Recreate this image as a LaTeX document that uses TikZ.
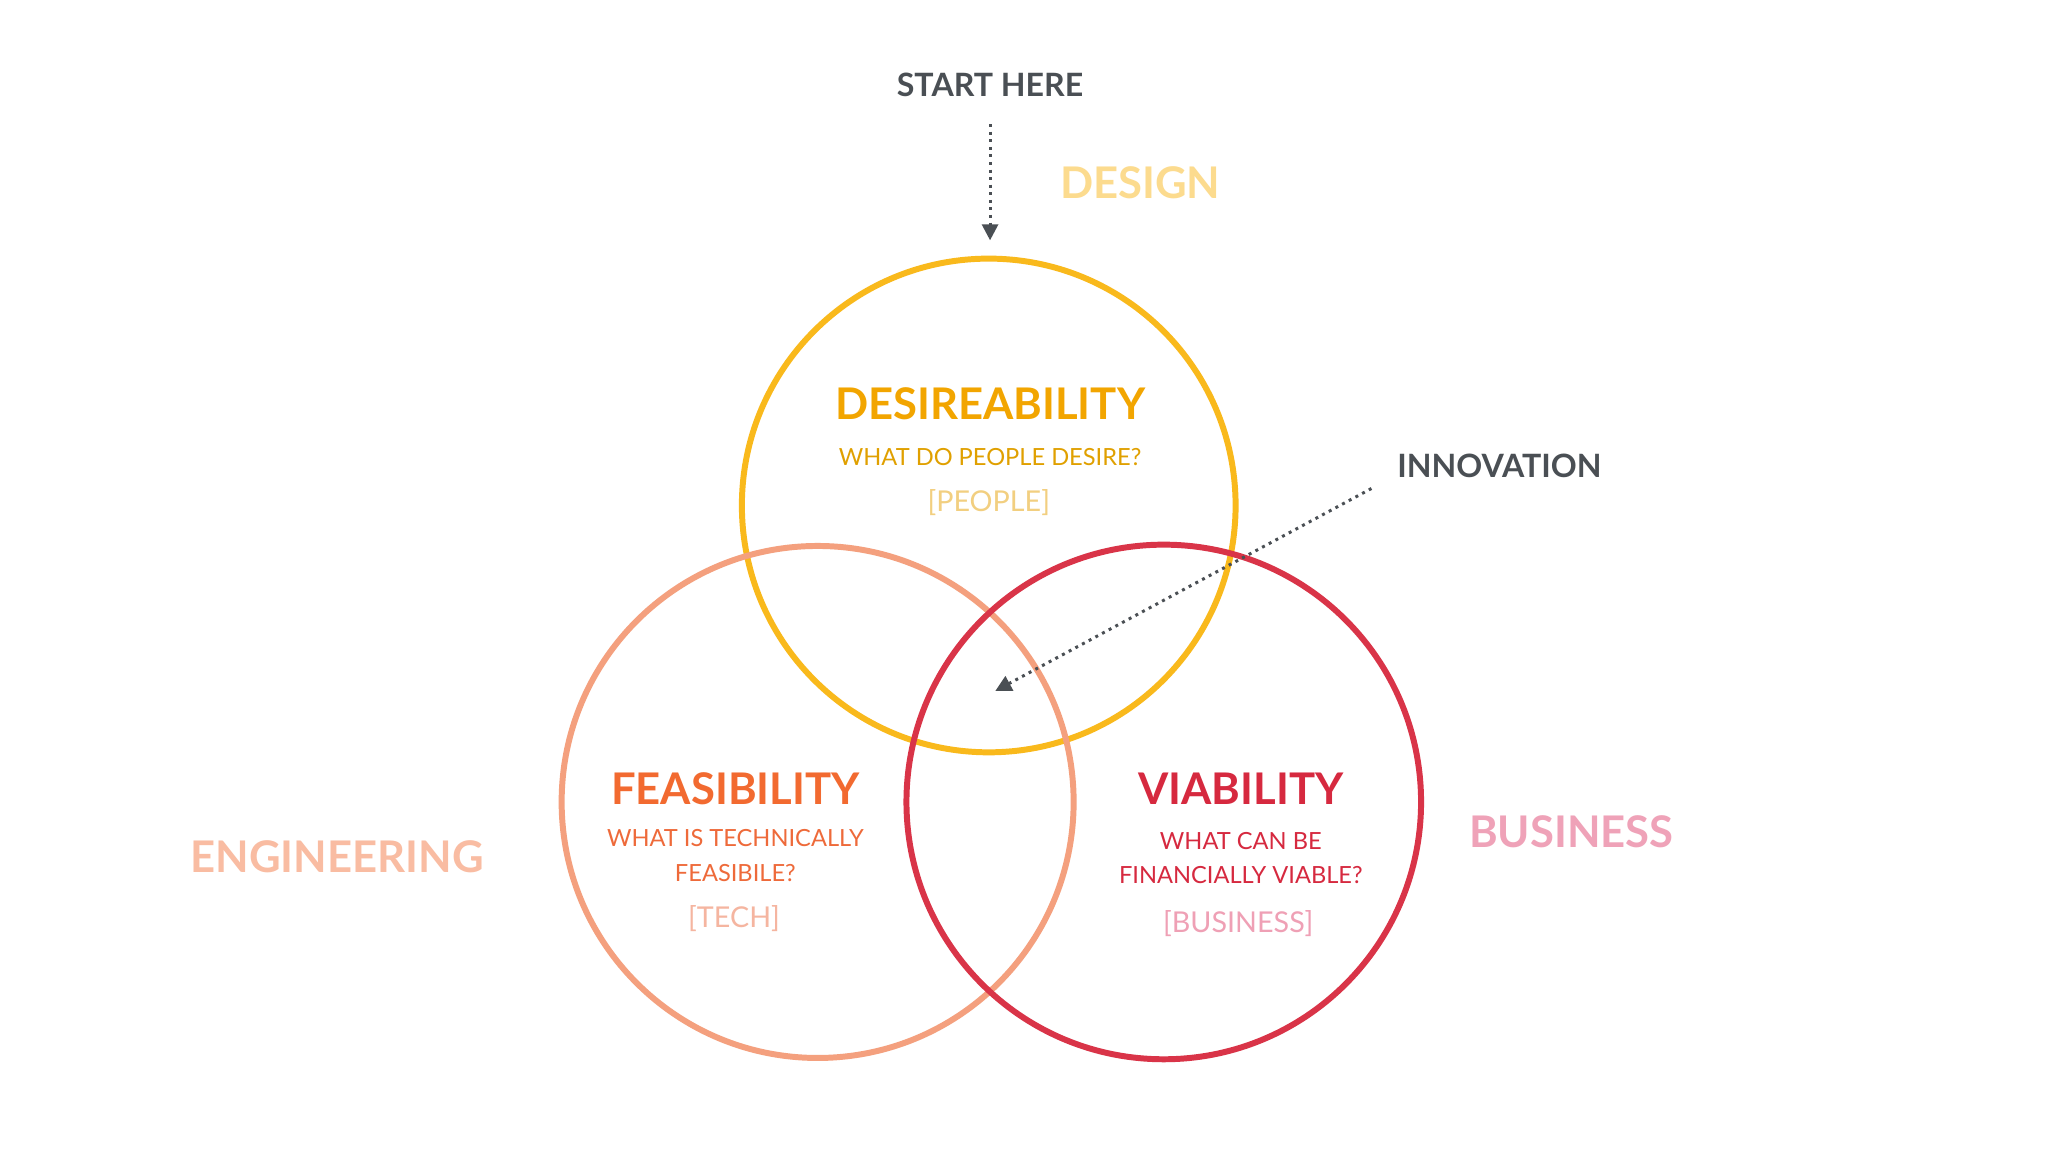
\documentclass[tikz,border=0pt]{standalone}
\usepackage{fontspec}
\setmainfont{Lato}
\usetikzlibrary{arrows.meta}
\definecolor{cyel}{HTML}{F9B91C}
\definecolor{cfea}{HTML}{F4A07E}
\definecolor{cvia}{HTML}{D93448}
\definecolor{tdes}{HTML}{F2A500}
\definecolor{tdes2}{HTML}{E0A000}
\definecolor{tdes3}{HTML}{F2CF80}
\definecolor{tfea}{HTML}{F26A30}
\definecolor{tfea2}{HTML}{EE6A3A}
\definecolor{tfea3}{HTML}{F5B5A0}
\definecolor{tvia}{HTML}{D6293F}
\definecolor{tvia3}{HTML}{EFA0B5}
\definecolor{tdesign}{HTML}{FCDB8E}
\definecolor{teng}{HTML}{F9BCA2}
\definecolor{tbus}{HTML}{EFA2B8}
\definecolor{tgray}{HTML}{4A4F54}
\tikzset{
 ring/.style={line width=2.6pt},
 head/.style={font=\fontsize{19}{22}\selectfont\bfseries},
 sub/.style={font=\fontsize{10.3}{15}\selectfont, align=center},
 tag/.style={font=\fontsize{12.5}{15}\selectfont},
 side/.style={font=\fontsize{19}{22}\selectfont\bfseries},
 lbl/.style={font=\fontsize{14}{16}\selectfont\bfseries, text=tgray},
 dotarrow/.style={draw=tgray, line width=1.3pt, dotted, -{Triangle[length=7pt,width=7pt]}}
}
\begin{document}
\begin{tikzpicture}[x=0.02cm,y=-0.02cm]
\useasboundingbox (0,0) rectangle (1568,882);
\fill[white] (0,0) rectangle (1568,882);
\draw[ring,cyel] (757,387) circle (189);
\draw[ring,cfea] (626,614) circle (196);
\draw[ring,cvia] (891,614) circle (197);
\node[head,text=tdes] (dh) at (758,309) {DESIREABILITY};
\node[sub,text=tdes2] (ds) at (758,350) {WHAT DO PEOPLE DESIRE?};
\node[tag,text=tdes3] (dt) at (757,385) {[PEOPLE]};
\node[head,text=tfea] (fh) at (563,604) {FEASIBILITY};
\node[sub,text=tfea2] (fs) at (563,655) {WHAT IS TECHNICALLY\\FEASIBILE?};
\node[tag,text=tfea3] (ft) at (562,703) {[TECH]};
\node[head,text=tvia] (vh) at (950,604) {VIABILITY};
\node[sub,text=tvia] (vs) at (950,657) {WHAT CAN BE\\FINANCIALLY VIABLE?};
\node[tag,text=tvia3] (vt) at (948,707) {[BUSINESS]};
\node[side,text=tdesign] (design) at (873,140) {DESIGN};
\node[side,text=teng] (eng) at (258,656) {ENGINEERING};
\node[side,text=tbus] (bus) at (1203,637) {BUSINESS};
\node[lbl] (start) at (758,65) {START HERE};
\node[lbl] (innov) at (1148,357) {INNOVATION};
\coordinate (s0) at (758,95);
\coordinate (s1) at (758,184);
\coordinate (i0) at (1050,374);
\coordinate (i1) at (762,529);
\draw[dotarrow] (s0) -- (s1);
\draw[dotarrow] (i0) -- (i1);
\end{tikzpicture}
\end{document}
